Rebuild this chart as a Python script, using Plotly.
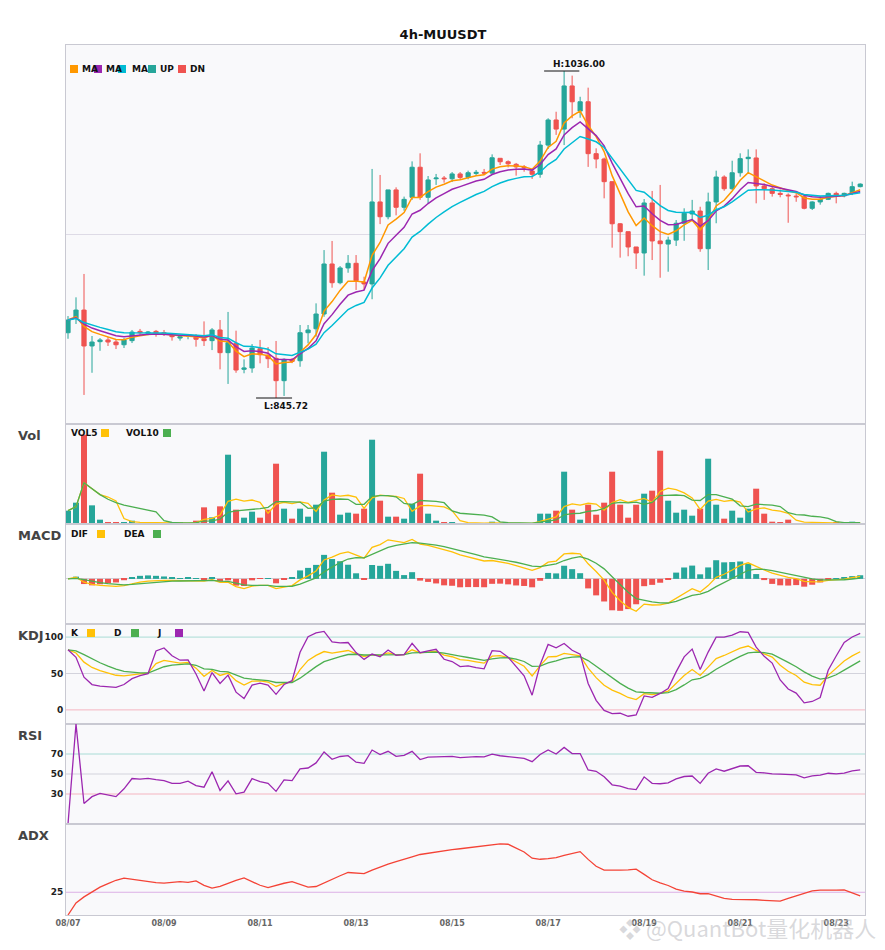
import numpy as np
import pandas as pd
import plotly.graph_objects as go
from plotly.subplots import make_subplots

# 4h candles, 08/07 .. 08/23
times = pd.date_range("2023-08-07", periods=100, freq="4h")
tick_labels = ["08/07", "08/09", "08/11", "08/13", "08/15", "08/17", "08/19", "08/21", "08/23"]

open_ = [883.7, 892.1, 896.9, 876.0, 878.5, 879.5, 878.3, 876.7, 879.1, 884.5,
         883.4, 884.5, 883.7, 882.2, 880.6, 881.8, 881.8, 880.2, 879.1, 885.3,
         872.1, 877.5, 862.4, 863.2, 874.4, 870.6, 868.8, 855.8, 868.2, 867.4,
         883.7, 886.0, 894.6, 923.7, 912.8, 921.4, 924.1, 913.2, 912.1, 959.8,
         951.2, 966.8, 956.7, 962.5, 980.0, 962.5, 973.3, 973.7, 973.3, 976.1,
         974.1, 976.4, 977.0, 976.6, 985.2, 983.2, 981.7, 980.2, 977.8, 975.9,
         992.9, 1007.5, 1002.2, 1027.3, 1012.7, 1018.1, 987.9, 984.8, 971.6, 947.1,
         942.5, 933.6, 930.1, 959.2, 937.1, 935.3, 937.6, 947.4, 952.8, 954.5,
         932.6, 959.8, 974.3, 967.5, 976.8, 985.0, 985.4, 969.1, 967.5, 964.8,
         963.8, 963.2, 962.8, 956.1, 959.8, 961.3, 964.8, 963.3, 964.8, 968.7]
high = [893.4, 904.3, 917.9, 881.8, 880.6, 881.2, 879.5, 880.6, 885.3, 885.9,
        884.7, 885.3, 885.3, 882.6, 881.8, 882.9, 882.9, 890.3, 886.4, 891.1,
        895.8, 884.9, 868.2, 877.1, 879.5, 875.4, 878.9, 868.8, 869.0, 888.2,
        888.2, 900.8, 931.8, 937.1, 922.5, 928.9, 928.9, 916.3, 979.0, 975.5,
        966.8, 968.3, 962.9, 983.4, 988.1, 974.9, 976.1, 974.9, 977.2, 977.2,
        978.0, 978.4, 979.0, 987.5, 985.2, 984.0, 982.5, 981.3, 979.4, 995.3,
        1008.5, 1012.3, 1036.0, 1033.3, 1021.0, 1026.3, 991.0, 985.6, 971.6, 947.5,
        942.5, 933.6, 961.5, 966.2, 969.7, 939.6, 949.3, 956.1, 961.0, 957.0,
        965.2, 978.0, 975.3, 983.8, 988.1, 990.4, 990.4, 970.6, 968.7, 967.1,
        964.8, 964.8, 963.2, 960.2, 963.2, 965.2, 965.8, 965.2, 971.6, 970.6]
low = [880.2, 888.8, 847.5, 860.4, 873.2, 876.0, 874.2, 874.8, 877.7, 882.4,
       882.2, 881.4, 881.8, 879.1, 879.1, 879.9, 875.6, 876.0, 873.6, 862.4,
       853.9, 860.4, 860.1, 860.4, 865.9, 863.2, 845.72, 846.9, 866.0, 863.9,
       877.5, 881.4, 893.0, 909.9, 911.9, 918.6, 908.6, 908.6, 903.2, 946.9,
       949.7, 952.0, 954.7, 961.0, 961.0, 959.0, 969.7, 971.0, 971.4, 972.6,
       973.0, 974.9, 975.5, 975.5, 981.3, 979.9, 975.1, 977.4, 973.2, 973.9,
       990.6, 998.8, 992.9, 1008.5, 1008.8, 980.2, 979.4, 961.9, 933.2, 927.4,
       928.2, 920.8, 916.9, 926.0, 915.7, 919.2, 934.2, 937.2, 949.3, 930.8,
       920.2, 947.4, 966.3, 966.8, 974.5, 976.5, 959.0, 961.0, 962.9, 962.5,
       947.7, 959.9, 955.5, 955.1, 958.2, 960.9, 959.0, 962.5, 963.8, 968.3]
close = [891.1, 896.9, 876.0, 878.3, 879.5, 878.3, 876.7, 879.5, 884.1, 883.7,
         884.1, 883.4, 882.9, 881.4, 881.4, 882.2, 879.9, 879.1, 885.3, 872.1,
         877.9, 862.0, 863.2, 874.8, 870.9, 868.6, 855.8, 868.2, 867.0, 883.7,
         885.3, 894.6, 923.7, 912.8, 921.4, 924.1, 914.0, 912.1, 959.8, 951.2,
         966.8, 956.7, 961.3, 980.0, 962.5, 972.6, 973.7, 973.3, 976.1, 974.1,
         976.8, 977.0, 976.6, 985.5, 983.2, 982.0, 980.2, 979.7, 975.9, 992.9,
         1007.5, 1002.2, 1027.3, 1018.1, 1018.1, 987.9, 984.8, 971.6, 947.1, 942.5,
         933.6, 930.1, 959.2, 937.1, 935.5, 937.6, 947.4, 953.2, 954.5, 932.6,
         959.8, 974.3, 967.5, 976.8, 985.0, 985.8, 969.1, 967.5, 964.8, 964.2,
         963.4, 962.8, 956.1, 959.8, 961.3, 964.8, 963.6, 964.8, 968.7, 970.2]
volume = [4000, 6400, 26800, 5600, 1300, 400, 400, 400, 1000, 200,
          200, 200, 200, 200, 400, 200, 1000, 5000, 2000, 5300,
          20800, 4300, 1900, 3700, 1900, 4300, 18100, 4600, 1600, 4600,
          2200, 5800, 21700, 9400, 2800, 3400, 3100, 4600, 25300, 7000,
          2200, 2200, 1600, 6100, 15100, 3100, 1000, 400, 400, 200,
          200, 200, 200, 700, 200, 200, 200, 200, 200, 3100,
          3100, 4000, 15700, 4300, 1300, 5800, 2800, 6400, 15700, 5800,
          1900, 5800, 9100, 10000, 22000, 7000, 3400, 4300, 2500, 4600,
          19600, 5800, 1600, 4000, 1900, 4600, 10600, 3100, 700, 400,
          1300, 200, 200, 200, 200, 200, 400, 200, 700, 200]

df = pd.DataFrame({"open": open_, "high": high, "low": low, "close": close, "volume": volume})
x = list(times.strftime("%m/%d %H:%M"))
c = df["close"]

# moving averages on price
ma1 = c.ewm(span=5, adjust=False).mean()
ma2 = c.ewm(span=8, adjust=False).mean()
ma3 = c.ewm(span=13, adjust=False).mean()

# volume averages
vol5 = df["volume"].rolling(5, min_periods=1).mean()
vol10 = df["volume"].rolling(10, min_periods=1).mean()

# MACD (6, 13, 5)
dif = c.ewm(span=6, adjust=False).mean() - c.ewm(span=13, adjust=False).mean()
dea = dif.ewm(span=5, adjust=False).mean()
hist = 2 * (dif - dea)

# KDJ
low9 = df["low"].rolling(9, min_periods=1).min()
high9 = df["high"].rolling(9, min_periods=1).max()
rsv = (c - low9) / (high9 - low9) * 100
k = rsv.ewm(com=2, adjust=False).mean()
d = k.ewm(com=2, adjust=False).mean()
j = 3 * k - 2 * d

# RSI 14 (wilder)
delta = c.diff().fillna(0)
gain = delta.clip(lower=0).ewm(alpha=1 / 14, adjust=False).mean()
loss = (-delta.clip(upper=0)).ewm(alpha=1 / 14, adjust=False).mean()
rsi = (100 * gain / (gain + loss)).fillna(0)

# ADX 14
up = df["high"].diff()
dn = -df["low"].diff()
plus_dm = pd.Series(np.where((up > dn) & (up > 0), up, 0.0))
minus_dm = pd.Series(np.where((dn > up) & (dn > 0), dn, 0.0))
prev_c = c.shift(1)
tr = pd.concat([df["high"] - df["low"], (df["high"] - prev_c).abs(),
                (df["low"] - prev_c).abs()], axis=1).max(axis=1)
atr = tr.ewm(span=14, adjust=False).mean()
pdi = 100 * plus_dm.ewm(span=14, adjust=False).mean() / atr
mdi = 100 * minus_dm.ewm(span=14, adjust=False).mean() / atr
dx = (100 * (pdi - mdi).abs() / (pdi + mdi)).fillna(0)
adx = dx.ewm(span=14, adjust=False).mean()

UP = "#26A69A"
DN = "#EF5350"
AMBER = "#FFC107"
GREEN = "#4CAF50"
PURPLE = "#9C27B0"
bar_colors = [UP if cl >= op else DN for op, cl in zip(open_, close)]
hist_colors = [UP if v >= 0 else DN for v in hist]

fig = make_subplots(rows=6, cols=1, shared_xaxes=True, vertical_spacing=0)

fig.add_trace(go.Candlestick(x=x, open=df["open"], high=df["high"], low=df["low"], close=c,
                             increasing=dict(line=dict(color=UP, width=1), fillcolor=UP),
                             decreasing=dict(line=dict(color=DN, width=1), fillcolor=DN)),
              row=1, col=1)
for s, col in [(ma1, "#FF9800"), (ma2, PURPLE), (ma3, "#00BCD4")]:
    fig.add_trace(go.Scatter(x=x, y=s, mode="lines", line=dict(color=col, width=1.5)), row=1, col=1)

fig.add_trace(go.Bar(x=x, y=df["volume"], marker=dict(color=bar_colors, line=dict(width=0))), row=2, col=1)
fig.add_trace(go.Scatter(x=x, y=vol5, mode="lines", line=dict(color=AMBER, width=1.3)), row=2, col=1)
fig.add_trace(go.Scatter(x=x, y=vol10, mode="lines", line=dict(color=GREEN, width=1.3)), row=2, col=1)

fig.add_trace(go.Bar(x=x, y=hist, marker=dict(color=hist_colors, line=dict(width=0))), row=3, col=1)
fig.add_trace(go.Scatter(x=x, y=dif, mode="lines", line=dict(color=AMBER, width=1.3)), row=3, col=1)
fig.add_trace(go.Scatter(x=x, y=dea, mode="lines", line=dict(color=GREEN, width=1.3)), row=3, col=1)

fig.add_trace(go.Scatter(x=x, y=k, mode="lines", line=dict(color=AMBER, width=1.3)), row=4, col=1)
fig.add_trace(go.Scatter(x=x, y=d, mode="lines", line=dict(color=GREEN, width=1.3)), row=4, col=1)
fig.add_trace(go.Scatter(x=x, y=j, mode="lines", line=dict(color=PURPLE, width=1.3)), row=4, col=1)

fig.add_trace(go.Scatter(x=x, y=rsi, mode="lines", line=dict(color=PURPLE, width=1.3)), row=5, col=1)
fig.add_trace(go.Scatter(x=x, y=adx, mode="lines", line=dict(color="#F44336", width=1.3)), row=6, col=1)

# level lines
levels = [(4, 100, "#a9dcd6"), (4, 50, "#d3d3dc"), (4, 0, "#f5b5c0"),
          (5, 70, "#a9dcd6"), (5, 50, "#d3d3dc"), (5, 30, "#f5b5c0"),
          (6, 25, "#dcb0e6")]
for row, lv, col in levels:
    fig.add_hline(y=lv, row=row, col=1, line=dict(color=col, width=1), layer="below")

# page-pixel helpers (page has an 8px body margin, compensated in the layout margins)
L0, R0, T0, B0 = 66, 865, 45, 915
def xp(px):
    return (px - L0) / (R0 - L0)
def yp(py):
    return (B0 - py) / (B0 - T0)

panels = [(45, 424), (424, 524), (524, 624), (624, 724), (724, 824), (824, 915)]
axis_line = "#c9c9d2"
for i, (top, bot) in enumerate(panels):
    n = "" if i == 0 else str(i + 1)
    fig.layout["yaxis" + n].update(domain=[yp(bot), yp(top)], showline=True, mirror=True,
                                   linecolor=axis_line, showgrid=False, zeroline=False,
                                   showticklabels=False, ticks="",
                                   tickfont=dict(family="DejaVu Sans", size=9, color="#222", weight="bold"))
    fig.layout["xaxis" + n].update(type="category", range=[-0.25, 99.6], showline=True, mirror=True,
                                   linecolor=axis_line, showgrid=False, zeroline=False, ticks="",
                                   showticklabels=(i == 5), rangeslider=dict(visible=False),
                                   tickvals=x[::12], ticktext=tick_labels,
                                   tickfont=dict(family="DejaVu Sans", size=8, color="#666", weight="bold"))

hi_idx = int(np.argmax(high))
lo_idx = int(np.argmin(low))
p_hi, p_lo = max(high), min(low)
pad = (p_hi - p_lo) * 0.0795
fig.layout.yaxis.update(range=[p_lo - pad, p_hi + pad], showgrid=True, gridcolor="#dedbe6",
                        tickvals=[(p_lo + p_hi) / 2])
fig.layout.yaxis2.update(range=[0, max(volume) * 1.12])
mx = max(dif.max(), dea.max(), hist.max())
mn = min(dif.min(), dea.min(), hist.min())
fig.layout.yaxis3.update(range=[mn * 1.39, mx * 1.39], zeroline=True, zerolinecolor="#cfcfd6", zerolinewidth=1)
fig.layout.yaxis4.update(range=[-19.4, 118], showticklabels=True, tickvals=[0, 50, 100])
fig.layout.yaxis5.update(range=[0, 100], showticklabels=True, tickvals=[30, 50, 70])
fig.layout.yaxis6.update(range=[0, 100], showticklabels=True, tickvals=[25])

shapes = []
annotations = []

def label(px, py, text, size=9, color="#111", anchor="left"):
    annotations.append(dict(xref="paper", yref="paper", x=xp(px), y=yp(py), text=text,
                            showarrow=False, xanchor=anchor, yanchor="middle",
                            font=dict(family="DejaVu Sans", size=size, color=color, weight="bold")))

def box(px, py, color):
    shapes.append(dict(type="rect", xref="paper", yref="paper", x0=xp(px), x1=xp(px + 8),
                       y0=yp(py + 4), y1=yp(py - 4), fillcolor=color, line=dict(width=0)))

# main legend
for tx, bx, name, col in [(81, 70, "MA", "#FF9800"), (105, 94, "MA", PURPLE), (131, 118, "MA", "#00BCD4"),
                          (159, 148, "UP", UP), (189, 178, "DN", DN)]:
    label(tx - 1, 69, name)
    box(bx, 69, col)

# panel titles
for py, name in [(435, "Vol"), (535, "MACD"), (635, "KDJ"), (735, "RSI"), (835, "ADX")]:
    label(16, py, name, size=13, color="#444")

# panel legends
for py, items in [(433, [(70, "VOL5", 101, AMBER), (125, "VOL10", 163, GREEN)]),
                  (534, [(70, "DIF", 97, AMBER), (123, "DEA", 153, GREEN)]),
                  (633, [(70, "K", 87, AMBER), (113, "D", 131, GREEN), (156, "J", 175, PURPLE)])]:
    for tx, name, bx, col in items:
        label(tx - 1, py, name)
        box(bx, py, col)

# high / low markers
shapes.append(dict(type="line", xref="x", yref="y", x0=hi_idx - 2.5, x1=hi_idx + 1.9,
                   y0=p_hi, y1=p_hi, line=dict(color="#111", width=1)))
shapes.append(dict(type="line", xref="x", yref="y", x0=lo_idx - 2.5, x1=lo_idx + 2.0,
                   y0=p_lo, y1=p_lo, line=dict(color="#111", width=1)))
annotations.append(dict(xref="x", yref="y", x=hi_idx - 1.7, y=p_hi, yshift=7, text="H:%.2f" % p_hi,
                        showarrow=False, xanchor="left", yanchor="middle",
                        font=dict(family="DejaVu Sans", size=9, color="#111", weight="bold")))
annotations.append(dict(xref="x", yref="y", x=lo_idx - 1.7, y=p_lo, yshift=-8, text="L:%.2f" % p_lo,
                        showarrow=False, xanchor="left", yanchor="middle",
                        font=dict(family="DejaVu Sans", size=9, color="#111", weight="bold")))

# watermark (overlaps the date labels, as in the source image)
annotations.append(dict(xref="paper", yref="paper", x=xp(878), y=yp(927), text="❖ @QuantBot量化机器人",
                        showarrow=False, xanchor="right", yanchor="middle",
                        font=dict(family="Noto Sans CJK SC", size=22, color="rgba(185,185,190,0.55)")))

fig.update_layout(
    width=877, height=942,
    margin=dict(l=58, r=20, t=37, b=35),
    paper_bgcolor="white", plot_bgcolor="#f9f9fb",
    showlegend=False, bargap=0.25, boxgap=0.25,
    title=dict(text="4h-MUUSDT", x=435 / 877, xref="container", y=1 - 26 / 942, yanchor="middle",
               xanchor="center",
               font=dict(family="DejaVu Sans", size=13, color="#111", weight="bold")),
    shapes=list(fig.layout.shapes) + shapes,
    annotations=annotations,
)

fig.write_html("out.html")
